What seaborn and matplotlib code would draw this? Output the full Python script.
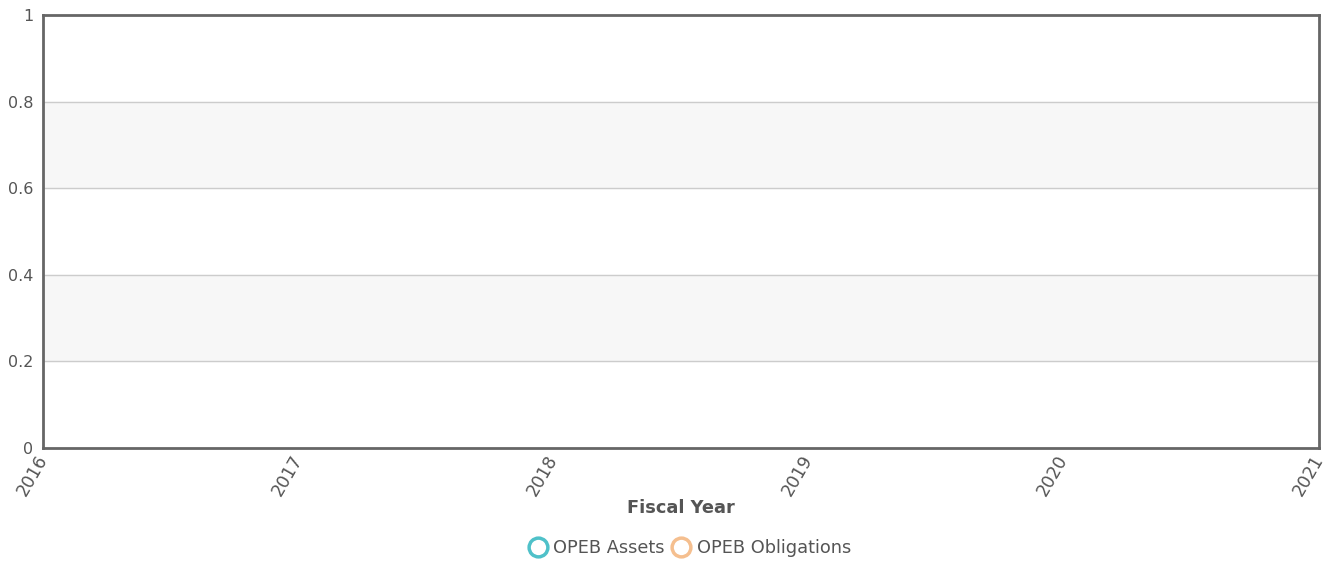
import seaborn as sns
import matplotlib.pyplot as plt
import pandas as pd
from matplotlib.lines import Line2D

# Données (graphique vide : aucune valeur publiée)
years = [2016, 2017, 2018, 2019, 2020, 2021]
opeb_assets = []
opeb_obligations = []
y_ticks = [0, 0.2, 0.4, 0.6, 0.8, 1]
y_tick_labels = ['0', '0.2', '0.4', '0.6', '0.8', '1']
series_names = ['OPEB Assets', 'OPEB Obligations']
series_colors = ['#4fc1c9', '#f5bf8f']

sns.set_theme(style="white")
plt.rcParams['font.family'] = ['DejaVu Sans']
plt.rcParams['font.sans-serif'] = ['DejaVu Sans']

fig = plt.figure(figsize=(13.29, 5.61), dpi=100)
ax = fig.add_axes([43 / 1329, 1 - 448 / 561, 1276 / 1329, 433 / 561])

df = pd.DataFrame({
    'Year': pd.Series(dtype=float),
    'Value': pd.Series(dtype=float),
    'Series': pd.Series(dtype=str),
})
for name, vals in zip(series_names, [opeb_assets, opeb_obligations]):
    part = pd.DataFrame({'Year': years[:len(vals)], 'Value': vals, 'Series': name})
    if len(part):
        df = pd.concat([df, part])
if len(df):
    sns.lineplot(data=df, x='Year', y='Value', hue='Series',
                 palette=dict(zip(series_names, series_colors)), ax=ax, legend=False)

# Bandes alternées et grille
for lo, hi in [(0.2, 0.4), (0.6, 0.8)]:
    ax.axhspan(lo, hi, color='#f7f7f7', zorder=0)
for t in y_ticks[1:-1]:
    ax.axhline(t, color='#cccccc', linewidth=1, zorder=1)

ax.set_xlim(years[0], years[-1])
ax.set_ylim(0, 1)
ax.set_xticks(years)
ax.set_xticklabels([str(y) for y in years], rotation=60, ha='right', va='center',
                   rotation_mode='anchor', fontsize=12.5, color='#555555',
                   family='DejaVu Sans')
ax.set_yticks(y_ticks)
ax.set_yticklabels(y_tick_labels, fontsize=11.5, color='#555555', family='DejaVu Sans')
ax.tick_params(axis='x', length=0, pad=6)
ax.tick_params(axis='y', length=0, pad=7)

for sp in ax.spines.values():
    sp.set_color('#666666')
    sp.set_linewidth(2)

ax.set_xlabel('Fiscal Year', fontsize=12.8, fontweight='bold', color='#555555',
              labelpad=0, family='DejaVu Sans')
ax.set_ylabel('')

handles = [Line2D([], [], linestyle='none', marker='o', markersize=13.5,
                  markerfacecolor='white', markeredgecolor=c, markeredgewidth=2.5)
           for c in series_colors]
fig.legend(handles, series_names, loc='center', bbox_to_anchor=(689 / 1329, 1 - 548 / 561),
           ncol=2, frameon=False, handletextpad=0.25, columnspacing=0.35,
           labelcolor='#555555', handlelength=1.2,
           prop={'family': 'DejaVu Sans', 'size': 12.8})

fig.savefig('out.png', dpi=100)
